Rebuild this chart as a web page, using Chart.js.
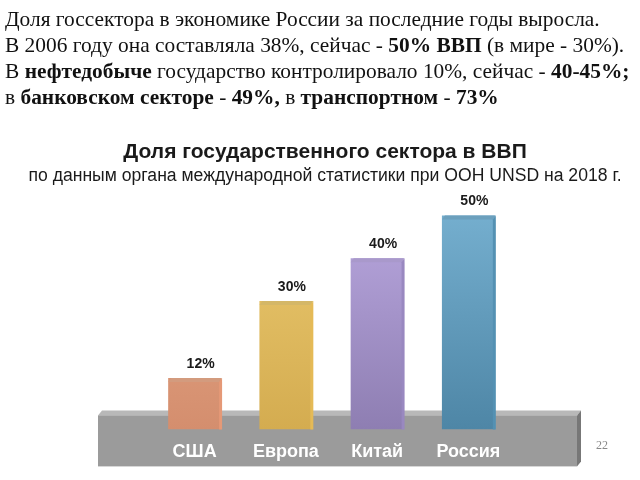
<!DOCTYPE html>
<html>
<head>
<meta charset="utf-8">
<script src="https://cdn.jsdelivr.net/npm/chart.js@4.4.1/dist/chart.umd.min.js"></script>
<style>
	body { margin:0; background:#fff; }
	#wrap { position:relative; width:640px; height:480px; overflow:hidden; }
	#head { position:absolute; left:5px; top:6px; font-family:"Liberation Serif", serif; font-size:21.4px; line-height:26px; color:#111; white-space:nowrap; }
	#head b { font-weight:bold; }
	.ttl { position:absolute; left:0; width:650px; text-align:center; font-family:"Liberation Sans", Arial, sans-serif; color:#1a1a1a; white-space:nowrap; }
	#title { top:139px; font-size:21px; font-weight:bold; }
	#subtitle { top:165px; font-size:17.6px; }
	#page { position:absolute; left:596px; top:438px; font-family:"Liberation Serif", serif; font-size:12px; color:#888; }
	canvas { position:absolute; left:0; top:0; }
</style>
</head>
<body>
<div id="wrap">
	<canvas id="govChart" width="640" height="480"></canvas>
	<div id="head">
		Доля госсектора в экономике России за последние годы выросла.<br>
		В 2006 году она составляла 38%, сейчас - <b>50% ВВП</b> (в мире - 30%).<br>
		В <b>нефтедобыче</b> государство контролировало 10%, сейчас - <b>40-45%;</b><br>
		в <b>банковском секторе</b> - <b>49%,</b> в <b>транспортном</b> - <b>73%</b>
	</div>
	<div class="ttl" id="title">Доля государственного сектора в ВВП</div>
	<div class="ttl" id="subtitle">по данным органа международной статистики при ООН UNSD на 2018 г.</div>
	<div id="page">22</div>
</div>
<script>
// данные
var countries = ["США", "Европа", "Китай", "Россия"];
var shares = [12, 30, 40, 50];
var topColors = ["#eaac8c", "#eccb72", "#bcaae2", "#78b2d2"];
var bottomColors = ["#d48e6e", "#d4ac50", "#8e7eb2", "#4e86a6"];

function shade(hex, k) {
	var n = parseInt(hex.slice(1), 16);
	var r = Math.min(255, Math.round(((n >> 16) & 255) * k));
	var g = Math.min(255, Math.round(((n >> 8) & 255) * k));
	var b = Math.min(255, Math.round((n & 255) * k));
	return "rgb(" + r + "," + g + "," + b + ")";
}

// серая подставка под столбцами (рисуется до подписей оси)
var platform = {
	id:'platform',
	beforeDraw:function (chart) {
		var c = chart.ctx, a = chart.chartArea;
		var l = a.left - 51, r = a.right + 63, t = a.bottom - 14, b = a.bottom + 37;
		c.save();
		c.fillStyle = '#b8b8b8';
		c.beginPath();
		c.moveTo(l, t); c.lineTo(l + 4, t - 5); c.lineTo(r + 4, t - 5); c.lineTo(r, t);
		c.closePath(); c.fill();
		c.fillStyle = '#9b9b9b';
		c.fillRect(l, t, r - l, b - t);
		c.fillStyle = '#777';
		c.beginPath();
		c.moveTo(r, t); c.lineTo(r + 4, t - 5); c.lineTo(r + 4, b - 5); c.lineTo(r, b);
		c.closePath(); c.fill();
		c.restore();
	}
};

// объём столбцов и подписи значений
var bar3d = {
	id:'bar3d',
	afterDatasetsDraw:function (chart) {
		var c = chart.ctx;
		var meta = chart.getDatasetMeta(0);
		c.save();
		meta.data.forEach(function (bar, i) {
			var x0 = bar.x - bar.width / 2, x1 = bar.x + bar.width / 2;
			c.fillStyle = shade(topColors[i], 0.9);
			c.beginPath();
			c.moveTo(x0, bar.y + 4); c.lineTo(x0 + 3, bar.y); c.lineTo(x1 + 1, bar.y); c.lineTo(x1 - 2, bar.y + 4);
			c.closePath(); c.fill();
			c.fillStyle = shade(bottomColors[i], 1.08);
			c.beginPath();
			c.moveTo(x1 - 2, bar.y + 4); c.lineTo(x1 + 1, bar.y); c.lineTo(x1 + 1, bar.base); c.lineTo(x1 - 2, bar.base);
			c.closePath(); c.fill();
			c.fillStyle = '#1a1a1a';
			c.font = 'bold 14px "Liberation Sans", Arial, sans-serif';
			c.textAlign = 'center';
			c.textBaseline = 'bottom';
			c.fillText(shares[i] + '%', bar.x + 6, bar.y - 7);
		});
		c.restore();
	}
};

new Chart(document.getElementById('govChart'), {
	type:'bar',
	plugins:[platform, bar3d],
	data:{
		labels:countries,
		datasets:[{
			data:shares,
			borderWidth:0,
			categoryPercentage:1,
			barPercentage:0.58,
			backgroundColor:function (ctx) {
				var a = ctx.chart.chartArea;
				if (!a) return topColors[ctx.dataIndex];
				var g = ctx.chart.ctx.createLinearGradient(0, a.top, 0, a.bottom);
				g.addColorStop(0, topColors[ctx.dataIndex]);
				g.addColorStop(1, bottomColors[ctx.dataIndex]);
				return g;
			}
		}]
	},
	options:{
		responsive:false,
		animation:false,
		layout:{ padding:{ top:194, left:149, right:126, bottom:5 } },
		plugins:{
			legend:{ display:false },
			tooltip:{ enabled:false }
		},
		scales:{
			x:{
				grid:{ display:false, drawTicks:false },
				border:{ display:false },
				ticks:{ color:'#fff', padding:12, font:{ family:'"Liberation Sans", Arial, sans-serif', size:18, weight:'bold' } }
			},
			y:{ display:false, min:0, max:55 }
		}
	}
});
</script>
</body>
</html>
